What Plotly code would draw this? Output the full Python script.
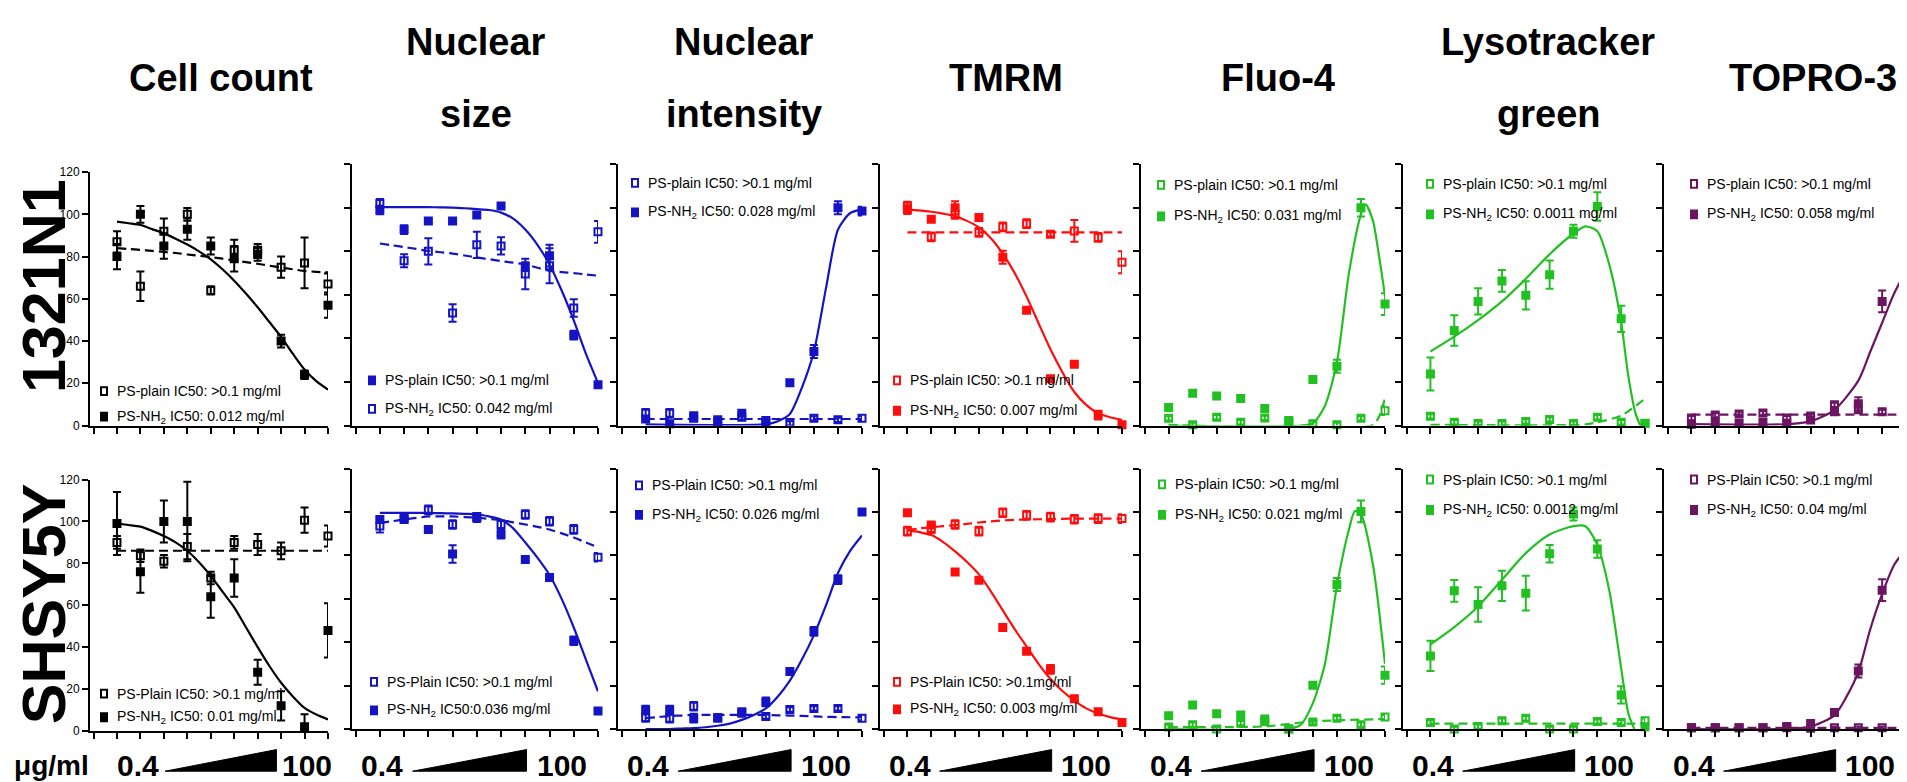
import plotly.graph_objects as go

W, H = 1907, 782

# ---------------- data ----------------
doses = [1, 2, 3, 4, 5, 6, 7, 8, 9, 10]          # 10 concentrations 0.4 -> 100 ug/ml (ordinal)
fit_x = [1, 1.5, 2, 2.5, 3, 3.5, 4, 4.5, 5, 5.5, 6, 6.5, 7, 7.5, 8, 8.5, 9, 9.5, 10]
y_ticks = [0, 20, 40, 60, 80, 100, 120]

titles = [["Cell count"], ["Nuclear", "size"], ["Nuclear", "intensity"], ["TMRM"],
          ["Fluo-4"], ["Lysotracker", "green"], ["TOPRO-3"]]
cell_lines = ["1321N1", "SHSY5Y"]
dose_unit, dose_low, dose_high = "μg/ml", "0.4", "100"

# Cell count - 1321N1
a1_plain = [87, 66, 92, 100, 64, 83, 83, 75, 77, 67]
a1_plain_err = [5, 7, 6, 3, 2, 5, 3, 5, 12, 5]
a1_nh2 = [80, 100, 85, 93, 85, 79, 81, 40, 24, 57]
a1_nh2_err = [6, 4, 6, 5, 4, 6, 3, 3, 2, 6]
a1_fit_nh2 = [96.6, 95.8, 95, 93, 91, 88.5, 85.7, 82.5, 78.7, 74, 68.6, 62.5, 56, 49, 42, 34, 26.5, 21, 17]
a1_fit_plain = [84, 83.6, 83.2, 82.7, 82.2, 81.7, 81, 80.4, 79.7, 79, 78.2, 77.4, 76.6, 75.7, 74.8, 74, 73.2, 72.8, 72.5]
# Cell count - SHSY5Y
a2_plain = [90, 83.6, 81, 88, 73, 90, 89, 86, 100.6, 93]
a2_plain_err = [3, 3, 3, 6, 3, 3, 5, 4, 6, 5]
a2_nh2 = [99, 76, 100, 100, 64, 73, 28, 12, 2, 48]
a2_nh2_err = [15, 10, 10, 19, 10, 9, 6, 7, 6, 13]
a2_fit_nh2 = [99, 98.3, 97.5, 95.5, 93, 90, 86, 80.5, 74, 66.5, 59, 49.5, 40, 31, 23, 16.5, 11, 7.8, 5.5]
a2_fit_plain_x = [1, 10]
a2_fit_plain = [86, 86]

# Nuclear size - 1321N1 (legend: filled = PS-plain, open = PS-NH2)
b1_plain = [99, 90, 94, 94, 96.7, 100.8, 73, 78, 41.5, 18.7]
b1_plain_err = [2, 2, 1, 1, 1, 1, 2, 5, 2, 1]
b1_nh2 = [102, 75.7, 80, 51.7, 83, 82.5, 69.6, 73.4, 54, 89]
b1_nh2_err = [2, 3, 6, 4, 6, 4, 7, 8, 4, 5]
b1_fit_solid = [100.3, 100.3, 100.3, 100.3, 100.3, 100.2, 100.1, 99.8, 99.4, 99, 97.8, 95, 90, 83, 74, 62, 48.3, 33, 19.5]
b1_fit_dash = [83.6, 82.8, 82, 81.1, 80.2, 79.6, 79, 78.1, 77.2, 76.4, 75.5, 74.8, 74, 72.5, 71, 70.5, 70, 69.4, 68.8]
# Nuclear size - SHSY5Y
b2_plain = [93.6, 97.4, 101, 94.3, 97.4, 94.3, 98.9, 95.8, 92, 79.2]
b2_plain_err = [3, 2, 2, 2, 2, 2, 2, 2, 2, 2]
b2_nh2 = [96.6, 96.6, 92, 80.7, 98, 89.8, 78.2, 69.9, 40.7, 8.3]
b2_nh2_err = [1, 1, 1, 4, 1, 2, 1, 1, 2, 1]
b2_fit_nh2 = [99.6, 99.6, 99.6, 99.6, 99.6, 99.5, 99.4, 99.2, 99, 98, 96.6, 92.5, 86, 79, 71, 60, 46.8, 32, 17.4]
b2_fit_plain = [95, 95.8, 96.6, 97.3, 98, 98, 98, 97.7, 97.4, 96.9, 96.3, 95.3, 94.3, 93.2, 92, 90.2, 88.3, 86, 83.8]

# Nuclear intensity - 1321N1
c1_plain = [5.6, 5.6, 3.3, 1.5, 3.8, 2.3, 1, 3.3, 2.6, 3.3]
c1_plain_err = [2, 2, 1, 1, 1, 1, 1, 1, 1, 1]
c1_nh2 = [3, 0.8, 4.5, 2.6, 5.6, 1.5, 19.7, 34, 100, 98.5]
c1_nh2_err = [1, 1, 1, 1, 1, 1, 1, 3, 3, 2]
c1_fit_nh2_x = [1, 6, 6.5, 7, 7.5, 8, 8.5, 9, 9.5, 10]
c1_fit_nh2 = [0.5, 0.6, 2, 5.3, 17.4, 34, 63, 90, 97.5, 99.3]
c1_fit_plain_x = [1, 10]
c1_fit_plain = [3, 3]
# Nuclear intensity - SHSY5Y
c2_plain = [5.3, 5, 10.5, 5.3, 7.2, 5.7, 9, 9.5, 9.5, 5]
c2_plain_err = [2, 2, 2, 1, 1, 1, 1, 1, 1, 1]
c2_nh2 = [8.7, 8.7, 5, 5, 8, 12.5, 26.5, 45, 68.9, 100]
c2_nh2_err = [2, 2, 2, 1, 1, 2, 1, 2, 2, 1]
c2_fit_nh2 = [0, 0, 0, 0.2, 0.4, 0.8, 1.5, 2.5, 4.2, 6.5, 9.5, 15, 22.3, 32, 43.3, 57, 71.9, 82, 89.2]
c2_fit_plain = [5, 5.5, 6, 6.2, 6.5, 6.5, 6.5, 6.5, 6.5, 6.5, 6.5, 6.3, 6.2, 6, 5.8, 5.6, 5.5, 5.4, 5.4]

# TMRM - 1321N1
d1_plain = [100.8, 86.7, 97, 88.7, 91.2, 92.7, 87.9, 89.4, 86.4, 75]
d1_plain_err = [2, 2, 2, 2, 2, 2, 1, 5, 2, 5]
d1_nh2 = [99.2, 94.7, 100, 95.5, 77.3, 52.9, 21.5, 28.2, 4.8, 0.3]
d1_nh2_err = [2, 1, 3, 1, 3, 1, 1, 1, 2, 2]
d1_fit_nh2 = [99.2, 98.8, 98.2, 97.3, 96.2, 94, 91, 86, 78.9, 70, 59.2, 47, 35, 24.5, 15.4, 9.5, 5.6, 3.8, 2.6]
d1_fit_plain_x = [1, 10]
d1_fit_plain = [88.7, 88.7]
# TMRM - SHSY5Y
d2_plain = [91.2, 92.4, 94.3, 91.2, 99.7, 98.5, 97.7, 96.7, 97, 97]
d2_plain_err = [2, 2, 2, 2, 2, 2, 2, 2, 2, 2]
d2_nh2 = [99.7, 94, 72.4, 68.6, 46.8, 35.8, 27.5, 13.9, 7.9, 3]
d2_nh2_err = [1, 1, 1, 1, 1, 1, 2, 1, 1, 1]
d2_fit_nh2 = [91.7, 90.8, 89.4, 86.2, 81.9, 77, 71.3, 63.5, 54.7, 46, 38, 30, 23, 17.5, 13.1, 9.5, 7.1, 5.5, 4.4]
d2_fit_plain = [91.7, 92.5, 93, 93.5, 94, 94.6, 95.2, 95.7, 96.2, 96.4, 96.6, 96.7, 96.8, 96.9, 97, 97, 97, 97, 97]

# Fluo-4 - 1321N1
e1_plain = [3.3, 0.3, 3.8, 1.5, 3.5, 2.3, 0.8, 0.3, 3.3, 6.8]
e1_plain_err = [1, 1, 1, 1, 1, 1, 1, 1, 1, 2]
e1_nh2 = [8.3, 14.8, 13.6, 12.4, 7.8, 1.5, 21.1, 27.2, 100, 55.8]
e1_nh2_err = [1, 1, 1, 1, 1, 1, 1, 3, 4, 5]
e1_fit_nh2_x = [1, 6.5, 7, 7.5, 8, 8.5, 9, 9.2, 9.5, 9.75, 10]
e1_fit_nh2 = [0, 0, 1, 9, 29, 70, 97, 101.5, 94, 78, 59.6]
e1_fit_plain_x = [1, 9.5, 9.75, 10]
e1_fit_plain = [0.3, 0.3, 4, 12.4]
# Fluo-4 - SHSY5Y
e2_plain = [0.9, 2, 0, 2.7, 3.5, 0, 3.2, 5, 2, 5.5]
e2_plain_err = [1, 1, 1, 1, 1, 1, 1, 1, 1, 1]
e2_nh2 = [6.1, 11.1, 7, 6.5, 4.6, 0, 20.2, 66.6, 100.3, 24.8]
e2_nh2_err = [1, 1, 1, 1, 1, 1, 1, 3, 5, 4]
e2_fit_nh2_x = [1, 6, 6.5, 7, 7.5, 8, 8.5, 8.75, 9, 9.5, 10]
e2_fit_nh2 = [0, 0, 2, 11.9, 30, 66, 92, 100.5, 99, 75.7, 30]
e2_fit_plain_x = [1, 5, 7, 10]
e2_fit_plain = [0.9, 1.2, 3.5, 4.6]

# Lysotracker green - 1321N1
f1_plain = [4.2, 1.5, 0.9, 0.9, 1.9, 2.8, 0.9, 3.8, 1.5, 0.9]
f1_plain_err = [1, 1, 1, 1, 1, 1, 1, 1, 1, 1]
f1_nh2 = [23.7, 43.6, 57, 66.4, 59.8, 69.3, 89.2, 100.6, 49, 1]
f1_nh2_err = [7.6, 7, 6, 5, 6.5, 6.5, 3, 6.5, 6, 1]
f1_fit_nh2_x = [1, 2, 3, 4, 5, 6, 7, 7.5, 8, 8.5, 9, 9.3, 9.6, 9.8]
f1_fit_nh2 = [34, 40.8, 48.4, 57, 67.4, 78.7, 88.2, 91.5, 89.2, 74, 47.4, 22.8, 5.7, 0]
f1_fit_plain_x = [1, 7.5, 8, 9, 10]
f1_fit_plain = [0.3, 0.5, 1.5, 4.5, 12.3]
# Lysotracker green - SHSY5Y
f2_plain = [3, 0, 1.1, 3.8, 4.9, 0, 0, 3.4, 3, 3.8]
f2_plain_err = [1, 1, 1, 1, 1, 1, 1, 1, 1, 1]
f2_nh2 = [33.7, 63.7, 57.4, 66, 62.6, 80.8, 99.1, 83, 15.7, 1]
f2_nh2_err = [7, 5, 8, 7, 8, 4, 3, 4, 4, 1]
f2_fit_nh2_x = [1, 2, 3, 4, 5, 6, 7, 7.5, 8, 8.5, 9, 9.3, 9.55]
f2_fit_nh2 = [39, 47, 56.5, 68.8, 81.1, 89.7, 93.5, 93.5, 84.9, 64, 28, 7.2, 0]
f2_fit_plain_x = [1, 10]
f2_fit_plain = [2.5, 2.5]

# TOPRO-3 - 1321N1
g1_plain = [3.4, 4.8, 5.3, 5.7, 3.4, 4.4, 9.5, 7.2, 6.3, 5]
g1_plain_err = [1, 1, 1, 1, 1, 1, 1, 1, 1, 1]
g1_nh2 = [0.6, 1, 1, 1.5, 1, 2.5, 6.3, 10, 57, 64.4]
g1_nh2_err = [1, 1, 1, 1, 1, 1, 1, 3, 5, 7.5]
g1_fit_nh2_x = [1, 5, 6, 7, 8, 8.5, 9, 9.5, 10]
g1_fit_nh2 = [0.6, 0.6, 1.9, 7.2, 20.6, 33.9, 47.2, 60.6, 71]
g1_fit_plain_x = [1, 10]
g1_fit_plain = [5, 5]
# TOPRO-3 - SHSY5Y
g2_plain = [0.6, 0.6, 0.6, 0.6, 0.6, 0.3, 0.6, 0.6, 0.6, 0.6]
g2_plain_err = [0.5, 0.5, 0.5, 0.5, 0.5, 0.5, 0.5, 0.5, 0.5, 0.5]
g2_nh2 = [0.6, 0.6, 0.6, 0.6, 1.1, 2.5, 7.6, 26.7, 64, 84.4]
g2_nh2_err = [0, 0, 0, 0, 1, 1, 1, 3, 5, 12]
g2_fit_nh2_x = [1, 5, 6, 7, 7.5, 8, 8.5, 9, 9.5, 10]
g2_fit_nh2 = [0, 0, 1.1, 6.3, 14.8, 26.2, 46, 62.3, 75.6, 83]
g2_fit_plain_x = [1, 10]
g2_fit_plain = [0.5, 0.5]

# ---------------- styling ----------------
BLACK, BLUE, RED, GREEN, PURPLE = "#000000", "#1414c4", "#ff0d0d", "#22c022", "#6b1462"
col_colors = [BLACK, BLUE, BLUE, RED, GREEN, GREEN, PURPLE]
SANS = "Liberation Sans, Arial, sans-serif"
NARROW = "Liberation Sans Narrow, Arial Narrow, Liberation Sans, Arial, sans-serif"

col_px = [(82, 320), (344, 590), (610, 854), (872, 1114), (1133, 1377), (1395, 1637), (1656, 1898)]
row_px_first = [(160, 418), (473, 729)]
row_px_other = [(152, 418), (462, 727)]


def plain_lbl(cap, val=">0.1 mg/ml"):
    return "PS-%s IC50: %s" % ("Plain" if cap else "plain", val)


def nh2_lbl(val, sep=" "):
    return "PS-NH<sub>2</sub> IC50:" + sep + val


# items: (label, y, err, filled); leg: (text left px, row1 centre px, row2 centre px)
panels = [
    dict(r=0, c=0, items=[(plain_lbl(False), a1_plain, a1_plain_err, False), (nh2_lbl("0.012 mg/ml"), a1_nh2, a1_nh2_err, True)],
         solid=(fit_x, a1_fit_nh2), dash=(fit_x, a1_fit_plain), leg=(107, 383, 409)),
    dict(r=1, c=0, items=[(plain_lbl(True), a2_plain, a2_plain_err, False), (nh2_lbl("0.01 mg/ml"), a2_nh2, a2_nh2_err, True)],
         solid=(fit_x, a2_fit_nh2), dash=(a2_fit_plain_x, a2_fit_plain), leg=(107, 691, 715)),
    dict(r=0, c=1, items=[(plain_lbl(False), b1_plain, b1_plain_err, True), (nh2_lbl("0.042 mg/ml"), b1_nh2, b1_nh2_err, False)],
         solid=(fit_x, b1_fit_solid), dash=(fit_x, b1_fit_dash), leg=(375, 372, 401)),
    dict(r=1, c=1, items=[(plain_lbl(True), b2_plain, b2_plain_err, False), (nh2_lbl("0.036 mg/ml", ""), b2_nh2, b2_nh2_err, True)],
         solid=(fit_x, b2_fit_nh2), dash=(fit_x, b2_fit_plain), leg=(377, 679, 708)),
    dict(r=0, c=2, items=[(plain_lbl(False), c1_plain, c1_plain_err, False), (nh2_lbl("0.028 mg/ml"), c1_nh2, c1_nh2_err, True)],
         solid=(c1_fit_nh2_x, c1_fit_nh2), dash=(c1_fit_plain_x, c1_fit_plain), leg=(638, 171, 201)),
    dict(r=1, c=2, items=[(plain_lbl(True), c2_plain, c2_plain_err, False), (nh2_lbl("0.026 mg/ml"), c2_nh2, c2_nh2_err, True)],
         solid=(fit_x, c2_fit_nh2), dash=(fit_x, c2_fit_plain), leg=(642, 479, 509)),
    dict(r=0, c=3, items=[(plain_lbl(False), d1_plain, d1_plain_err, False), (nh2_lbl("0.007 mg/ml"), d1_nh2, d1_nh2_err, True)],
         solid=(fit_x, d1_fit_nh2), dash=(d1_fit_plain_x, d1_fit_plain), leg=(900, 372, 403)),
    dict(r=1, c=3, items=[("PS-Plain IC50: >0.1mg/ml", d2_plain, d2_plain_err, False), (nh2_lbl("0.003 mg/ml"), d2_nh2, d2_nh2_err, True)],
         solid=(fit_x, d2_fit_nh2), dash=(fit_x, d2_fit_plain), leg=(900, 679, 707)),
    dict(r=0, c=4, items=[(plain_lbl(False), e1_plain, e1_plain_err, False), (nh2_lbl("0.031 mg/ml"), e1_nh2, e1_nh2_err, True)],
         solid=(e1_fit_nh2_x, e1_fit_nh2), dash=(e1_fit_plain_x, e1_fit_plain), leg=(1164, 173, 205)),
    dict(r=1, c=4, items=[(plain_lbl(False), e2_plain, e2_plain_err, False), (nh2_lbl("0.021 mg/ml"), e2_nh2, e2_nh2_err, True)],
         solid=(e2_fit_nh2_x, e2_fit_nh2), dash=(e2_fit_plain_x, e2_fit_plain), leg=(1165, 478, 509)),
    dict(r=0, c=5, items=[(plain_lbl(False), f1_plain, f1_plain_err, False), (nh2_lbl("0.0011 mg/ml"), f1_nh2, f1_nh2_err, True)],
         solid=(f1_fit_nh2_x, f1_fit_nh2), dash=(f1_fit_plain_x, f1_fit_plain), leg=(1433, 172, 203)),
    dict(r=1, c=5, items=[(plain_lbl(False), f2_plain, f2_plain_err, False), (nh2_lbl("0.0012 mg/ml"), f2_nh2, f2_nh2_err, True)],
         solid=(f2_fit_nh2_x, f2_fit_nh2), dash=(f2_fit_plain_x, f2_fit_plain), leg=(1433, 473, 504)),
    dict(r=0, c=6, items=[(plain_lbl(False), g1_plain, g1_plain_err, False), (nh2_lbl("0.058 mg/ml"), g1_nh2, g1_nh2_err, True)],
         solid=(g1_fit_nh2_x, g1_fit_nh2), dash=(g1_fit_plain_x, g1_fit_plain), leg=(1697, 172, 203)),
    dict(r=1, c=6, items=[(plain_lbl(True), g2_plain, g2_plain_err, False), (nh2_lbl("0.04 mg/ml"), g2_nh2, g2_nh2_err, True)],
         solid=(g2_fit_nh2_x, g2_fit_nh2), dash=(g2_fit_plain_x, g2_fit_plain), leg=(1697, 473, 504)),
]

fig = go.Figure()
layout = dict(width=W, height=H, margin=dict(l=0, r=0, t=0, b=0),
              paper_bgcolor="white", plot_bgcolor="white", showlegend=False)
annotations, shapes = [], []


def px_x(p):
    return p / W


def px_y(p):
    return 1 - p / H


for k, p in enumerate(panels, start=1):
    r, c = p["r"], p["c"]
    color = col_colors[c]
    xa, ya = "x%d" % k, "y%d" % k
    xs = "" if k == 1 else str(k)
    x0, x1 = col_px[c]
    top, bot = (row_px_first if c == 0 else row_px_other)[r]
    layout["xaxis" + xs] = dict(domain=[px_x(x0), px_x(x1)], anchor=ya, range=[-0.15, 10],
                                tickvals=list(range(0, 11)), showticklabels=False, ticks="outside",
                                ticklen=6, tickwidth=2, tickcolor="black", showline=True,
                                linecolor="black", linewidth=2, showgrid=False, zeroline=False,
                                fixedrange=True)
    layout["yaxis" + xs] = dict(domain=[px_y(bot), px_y(top)], anchor=xa, range=[0, 120],
                                tickvals=y_ticks, showticklabels=(c == 0), ticks="outside",
                                ticklen=6, tickwidth=2, tickcolor="black", showline=True,
                                linecolor="black", linewidth=2, showgrid=False, zeroline=False,
                                tickfont=dict(family=NARROW, size=12, color="black"),
                                fixedrange=True)
    # fitted curves
    fig.add_trace(go.Scatter(x=p["dash"][0], y=p["dash"][1], mode="lines", xaxis=xa, yaxis=ya,
                             line=dict(color=color, width=2.2, dash="9px,5px", shape="spline", smoothing=0.7),
                             hoverinfo="skip", cliponaxis=False))
    fig.add_trace(go.Scatter(x=p["solid"][0], y=p["solid"][1], mode="lines", xaxis=xa, yaxis=ya,
                             line=dict(color=color, width=2.2, shape="spline", smoothing=0.7),
                             hoverinfo="skip", cliponaxis=False))
    lx, ly1, ly2 = p["leg"]
    for j, (lbl, yv, err, filled) in enumerate(p["items"]):
        fig.add_trace(go.Scatter(
            x=doses, y=yv, mode="markers", xaxis=xa, yaxis=ya, name=lbl,
            marker=dict(symbol="square" if filled else "square-open", size=7, color=color,
                        line=dict(color=color, width=2)),
            error_y=dict(type="data", array=err, visible=True, color=color, thickness=2, width=4),
            cliponaxis=False))
        # legend entry: key symbol + label
        ly = ly1 if j == 0 else ly2
        sx = lx - 11
        shapes.append(dict(type="rect", xref="paper", yref="paper",
                           x0=px_x(sx - 3), x1=px_x(sx + 3), y0=px_y(ly + 4), y1=px_y(ly - 4),
                           line=dict(color=color, width=2),
                           fillcolor=color if filled else "rgba(0,0,0,0)"))
        annotations.append(dict(text=lbl, x=px_x(lx), y=px_y(ly), xref="paper", yref="paper",
                                showarrow=False, xanchor="left", yanchor="middle",
                                font=dict(family=NARROW, size=14, color="black")))
    # dose wedge + labels under bottom row
    if r == 1:
        if c == 0:
            lo_x, w0, w1, hi_x = 1.9, 3.05, 7.8, 9.1
        else:
            lo_x, w0, w1, hi_x = 1.1, 2.35, 7.05, 8.5
        yb, yt = px_y(770), px_y(748)
        shapes.append(dict(type="path", xref=xa, yref="paper",
                           path="M %s,%s L %s,%s L %s,%s Z" % (w0, yb, w1, yb, w1, yt),
                           fillcolor="black", line=dict(color="black", width=1)))
        for txt, xv in ((dose_low, lo_x), (dose_high, hi_x)):
            annotations.append(dict(text="<b>%s</b>" % txt, x=xv, y=px_y(764), xref=xa, yref="paper",
                                    showarrow=False, xanchor="center", yanchor="middle",
                                    font=dict(family=SANS, size=30, color="black")))

# column titles
title_cx = [213, 468, 736, 998, 1270, 1540, 1805]
for c, lines in enumerate(titles):
    ys = [64] if len(lines) == 1 else [28, 101]
    for line, yy in zip(lines, ys):
        annotations.append(dict(text="<b>%s</b>" % line, x=px_x(title_cx[c]), y=px_y(yy),
                                xref="paper", yref="paper", showarrow=False,
                                xanchor="center", yanchor="middle",
                                font=dict(family=NARROW, size=38, color="black")))

# cell-line labels (rotated)
for name, yy in zip(cell_lines, [276, 600]):
    annotations.append(dict(text="<b>%s</b>" % name, x=0, y=px_y(yy), xref="paper", yref="paper",
                            showarrow=False, textangle=-90, xanchor="left", yanchor="middle",
                            font=dict(family=SANS, size=61, color="black")))

# unit label
annotations.append(dict(text="<b>%s</b>" % dose_unit, x=px_x(4), y=px_y(764), xref="paper", yref="paper",
                        showarrow=False, xanchor="left", yanchor="middle",
                        font=dict(family=SANS, size=28, color="black")))

layout["annotations"] = annotations
layout["shapes"] = shapes
fig.update_layout(**layout)
fig.write_html("out.html")
